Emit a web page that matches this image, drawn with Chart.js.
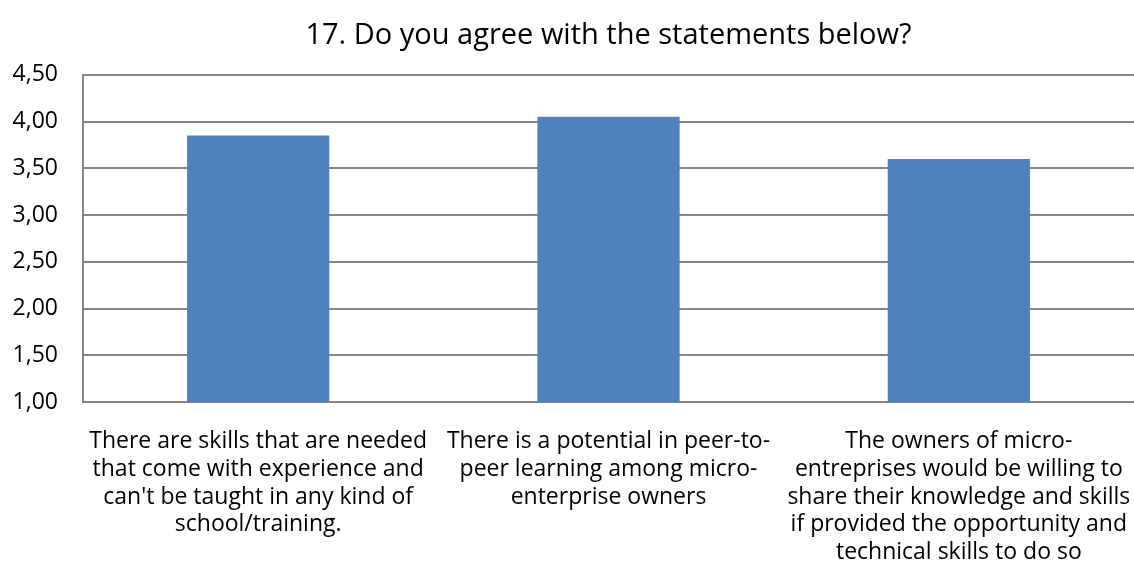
<!DOCTYPE html>
<html>
<head>
<meta charset="utf-8">
<script src="https://cdn.jsdelivr.net/npm/chart.js@4/dist/chart.umd.min.js"></script>
<style>
  html, body { margin: 0; padding: 0; background: #fff; }
  #wrap { width: 1134px; height: 580px; }
</style>
</head>
<body>
<div id="wrap"><canvas id="chart"></canvas></div>
<script>
// statements (already split into lines) and their average scores
var statements = [
  ["There are skills that are needed", "that come with experience and", "can't be taught in any kind of", "school/training."],
  ["There is a potential in peer-to-", "peer learning among micro-", "enterprise owners"],
  ["The owners of micro-", "entreprises would be willing to", "share their knowledge and skills", "if provided the opportunity and", "technical skills to do so"]
];
var scores = [3.85, 4.05, 3.60];

var yMin = 1, yMax = 4.5, yStep = 0.5;

Chart.defaults.font.family = "'Open Sans', sans-serif";
Chart.defaults.color = '#000';

var ctx = document.getElementById('chart').getContext('2d');
var myBarChart = new Chart(ctx, {
  type: 'bar',
  data: {
    labels: statements,
    datasets: [{
      data: scores,
      backgroundColor: '#4F81BD',
      borderWidth: 0,
      barPercentage: 0.406,
      categoryPercentage: 1
    }]
  },
  options: {
    responsive: true,
    maintainAspectRatio: false,
    animation: false,
    layout: { padding: { left: 13, right: 0, top: 18, bottom: 0 } },
    plugins: {
      legend: { display: false },
      tooltip: { enabled: false },
      title: {
        display: true,
        text: '17. Do you agree with the statements below?',
        fullSize: false,
        font: { size: 29, weight: 'normal' },
        padding: { top: 0, bottom: 22 }
      }
    },
    scales: {
      x: {
        grid: { display: false, drawTicks: false },
        border: { color: '#868686', width: 2 },
        ticks: {
          autoSkip: false,
          maxRotation: 0,
          padding: 26,
          font: { size: 23 },
          lineHeight: 1.37
        },
        // long labels may run to the canvas edge, don't let them squeeze the plot
        afterFit: function (scale) {
          scale.paddingLeft = 0;
          scale.paddingRight = 0;
          scale.height = 178;
        }
      },
      y: {
        min: yMin,
        max: yMax,
        grid: { color: '#868686', lineWidth: 2, drawTicks: false },
        border: { color: '#868686', width: 2 },
        ticks: {
          stepSize: yStep,
          padding: 25,
          font: { size: 23 },
          callback: function (v) { return v.toFixed(2).replace('.', ','); }
        },
        // chart.js counts the tick padding twice here
        afterFit: function (scale) {
          scale.width = 70;
        }
      }
    }
  }
});
</script>
</body>
</html>
